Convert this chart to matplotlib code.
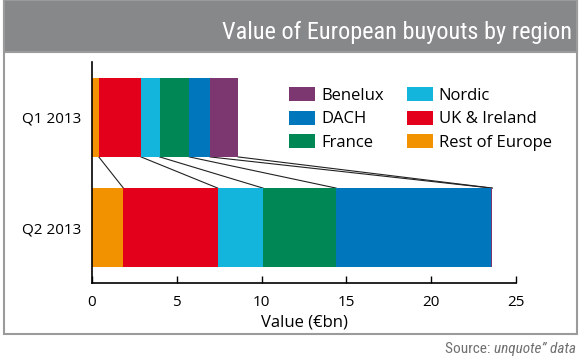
import matplotlib
matplotlib.use("Agg")
import matplotlib.pyplot as plt
from matplotlib.patches import Rectangle, Patch
from matplotlib import font_manager as fm
import numpy as np

# ---- data ----
periods = ["Q2 2013", "Q1 2013"]
regions = ["Rest of Europe", "UK & Ireland", "Nordic", "France", "DACH", "Benelux"]
q1_values = [0.40, 2.49, 1.10, 1.75, 1.22, 1.65]
q2_values = [1.85, 5.56, 2.67, 4.31, 9.16, 0.06]
region_colors = ["#F39200", "#E2001A", "#14B5DC", "#008756", "#0077BD", "#7D3770"]
xticks = [0, 5, 10, 15, 20, 25]
legend_order = ["Benelux", "DACH", "France", "Nordic", "UK & Ireland", "Rest of Europe"]

def pick(names):
    avail = {f.name for f in fm.fontManager.ttflist}
    for n in names:
        if n in avail:
            return n
    return "DejaVu Sans"

cond = pick(["Liberation Sans Narrow", "DejaVu Sans Condensed", "Roboto Condensed", "DejaVu Sans"])
body = pick(["Open Sans", "Noto Sans", "DejaVu Sans"])
plt.rcParams["font.family"] = [body, "DejaVu Sans"]

W, H = 580, 358
fig = plt.figure(figsize=(W / 100, H / 100), dpi=100)

def fx(px):
    return px / W

def fy(py):
    return 1 - py / H

# frame and header
fig.patches.append(Rectangle((fx(3.5), fy(334)), fx(573), fy(0) - fy(334),
                             transform=fig.transFigure, facecolor="white",
                             edgecolor="#9b9b9b", lw=1.5, zorder=-5))
fig.patches.append(Rectangle((fx(3.5), fy(52)), fx(573), fy(0) - fy(52),
                             transform=fig.transFigure, facecolor="#87888A",
                             edgecolor="#9b9b9b", lw=1.5, zorder=-4))
fig.text(fx(572), fy(39), "Value of European buyouts by region", color="white",
         ha="right", va="baseline", fontsize=17.5, family=cond)

ax = fig.add_axes([fx(92), fy(283), fx(516) - fx(92), fy(62) - fy(283)])
ax.set_facecolor("none")

bar_h = 0.718
ypos = np.array([0, 1])
vals = np.array([q2_values, q1_values])  # rows align with periods
left = np.zeros(2)
for i, r in enumerate(regions):
    ax.barh(ypos, vals[:, i], left=left, height=bar_h, color=region_colors[i],
            label=r, linewidth=0, zorder=2)
    left = left + vals[:, i]

# connector lines between cumulative boundaries
cum_q1 = np.cumsum(q1_values)
cum_q2 = np.cumsum(q2_values)
for a, b in zip(cum_q1, cum_q2):
    ax.plot([a, b], [1 - bar_h / 2, bar_h / 2], color="#222222", lw=0.8, zorder=1)

ax.set_xlim(0, 25)
ax.set_ylim(-0.5, 1.5)
ax.set_xticks(xticks)
ax.set_xticklabels([str(t) for t in xticks], fontsize=11)
ax.set_yticks(ypos)
ax.set_yticklabels(periods, fontsize=11)
ax.tick_params(axis="x", direction="in", length=5, width=1, pad=9, color="black")
ax.tick_params(axis="y", length=0, pad=8)
for lbl in ax.get_yticklabels():
    lbl.set_va("center_baseline")
for s in ["top", "right"]:
    ax.spines[s].set_visible(False)
for s in ["left", "bottom"]:
    ax.spines[s].set_linewidth(1.2)
    ax.spines[s].set_color("black")
ax.set_xlabel("Value (€bn)", fontsize=12, labelpad=3)

handles = [Patch(facecolor=region_colors[regions.index(n)], edgecolor="none") for n in legend_order]
leg = fig.legend(handles, legend_order, ncol=2, loc="upper left",
                 bbox_to_anchor=(fx(289), fy(87)), bbox_transform=fig.transFigure,
                 frameon=False, fontsize=12, handlelength=1.56, handleheight=0.9,
                 handletextpad=0.36, columnspacing=1.38, labelspacing=0.42,
                 borderpad=0, borderaxespad=0)

# source line
fig.canvas.draw()
t2 = fig.text(fx(576), fy(353), "unquote\u201d data", ha="right", va="baseline",
              fontsize=11, color="#707070", family=cond, style="italic")
fig.canvas.draw()
bb = t2.get_window_extent()
fig.text(bb.x0 / fig.dpi / fig.get_figwidth(), fy(353), "Source: ", ha="right",
         va="baseline", fontsize=11, color="#707070", family=cond)

fig.savefig("out.png", dpi=100)
